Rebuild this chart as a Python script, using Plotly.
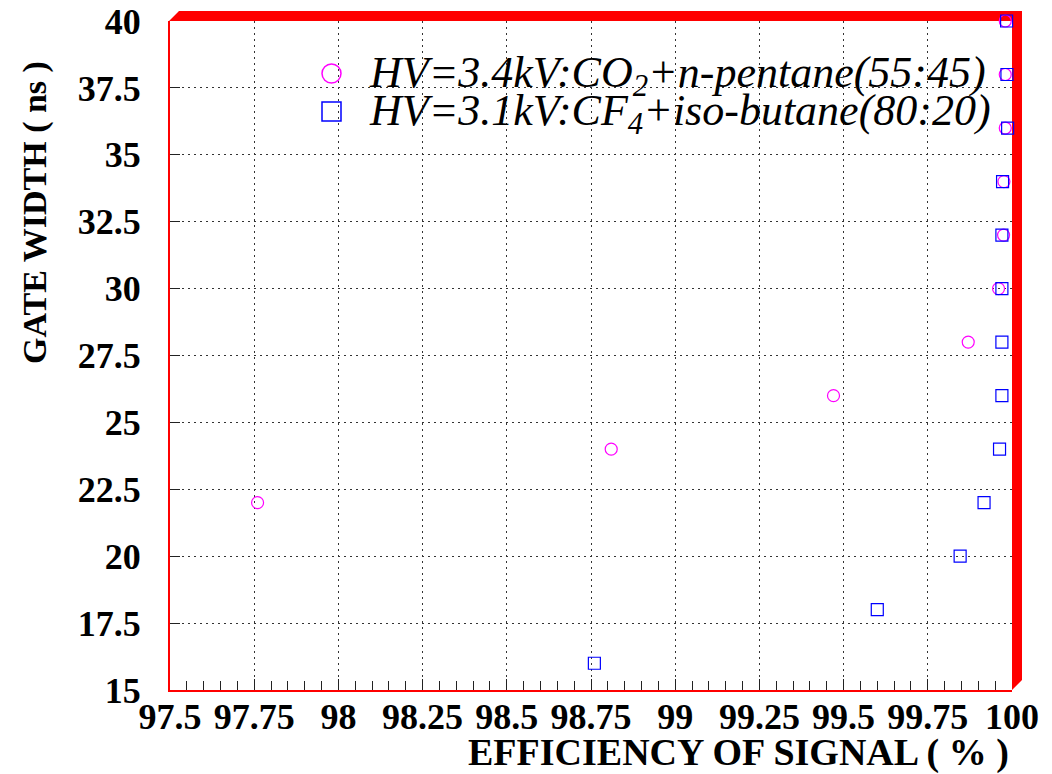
import plotly.graph_objects as go

# Gate width scan: signal efficiency for two gas mixtures
co2_eff = [97.76, 98.81, 99.47, 99.87, 99.96, 99.975, 99.976, 99.98, 99.98, 99.98]
co2_gate = [22, 24, 26, 28, 30, 32, 34, 36, 38, 40]

cf4_eff = [98.76, 99.60, 99.846, 99.917, 99.963, 99.97, 99.97, 99.97, 99.97,
           99.972, 99.987, 99.985, 99.984]
cf4_gate = [16, 18, 20, 22, 24, 26, 28, 30, 32, 34, 36, 38, 40]

x_ticks = [97.5, 97.75, 98, 98.25, 98.5, 98.75, 99, 99.25, 99.5, 99.75, 100]
x_tick_text = ["97.5", "97.75", "98", "98.25", "98.5", "98.75", "99", "99.25",
               "99.5", "99.75", "100"]
y_ticks = [15, 17.5, 20, 22.5, 25, 27.5, 30, 32.5, 35, 37.5, 40]
y_tick_text = ["15", "17.5", "20", "22.5", "25", "27.5", "30", "32.5", "35",
               "37.5", "40"]

label_co2 = "HV=3.4kV:CO<sub>2</sub>+n-pentane(55:45)"
label_cf4 = "HV=3.1kV:CF<sub>4</sub>+iso-butane(80:20)"
x_title = "EFFICIENCY OF SIGNAL ( % )"
y_title = "GATE WIDTH ( ns )"

W, H = 1052, 774
L, R, T, B = 170, 40, 21, 84
PW, PH = W - L - R, H - T - B


def px(X):
    return (X - L) / PW


def py(Y):
    return (H - B - Y) / PH


serif = "Liberation Serif"
MAGENTA = "#ff00ff"
BLUE = "#0000ff"

fig = go.Figure()
fig.add_trace(go.Scatter(
    x=co2_eff, y=co2_gate, mode="markers", name=label_co2,
    marker=dict(symbol="circle-open", size=12, color=MAGENTA, line=dict(width=1.2)),
    cliponaxis=False, showlegend=False))
fig.add_trace(go.Scatter(
    x=cf4_eff, y=cf4_gate, mode="markers", name=label_cf4,
    marker=dict(symbol="square-open", size=12, color=BLUE, line=dict(width=1.2)),
    cliponaxis=False, showlegend=False))

grid = dict(showgrid=True, gridcolor="#333333", griddash="2px,4px", gridwidth=1)

fig.update_xaxes(
    range=[97.5, 100], tickvals=x_ticks, ticktext=x_tick_text, tickangle=0,
    ticks="inside", ticklen=11, tickwidth=1, tickcolor="#222",
    minor=dict(dtick=0.05, tick0=97.5, ticks="inside", ticklen=9, tickcolor="#222",
               showgrid=False),
    showline=True, linecolor="red", linewidth=2, mirror=False, zeroline=False,
    tickfont=dict(family=serif, size=36, color="black", weight="bold"),
    ticklabelstandoff=-6, automargin=False, **grid)
fig.update_yaxes(
    range=[15, 40], tickvals=y_ticks, ticktext=y_tick_text,
    ticks="inside", ticklen=10, tickwidth=1, tickcolor="#222",
    showline=True, linecolor="red", linewidth=2, mirror=False, zeroline=False,
    tickfont=dict(family=serif, size=36, color="black", weight="bold"),
    ticklabelstandoff=20, automargin=False, **grid)

# raised 3D frame edges along the top and right
frame = (f"M {px(169)},{py(21)} L {px(179)},{py(11)} L {px(1022)},{py(11)} "
         f"L {px(1022)},{py(680)} L {px(1012)},{py(690)} L {px(1012)},{py(21)} Z")
fig.add_shape(type="path", path=frame, xref="paper", yref="paper",
              fillcolor="red", line=dict(width=0), layer="below")

# legend symbols
r = 9.5
fig.add_shape(type="circle", xref="paper", yref="paper",
              x0=px(331.5 - r), x1=px(331.5 + r), y0=py(73.5 + r), y1=py(73.5 - r),
              line=dict(color=MAGENTA, width=1.5))
fig.add_shape(type="rect", xref="paper", yref="paper",
              x0=px(331.5 - r), x1=px(331.5 + r), y0=py(111.5 + r), y1=py(111.5 - r),
              line=dict(color=BLUE, width=1.5))

legend_font = dict(family=serif, size=44, color="black", style="italic")
fig.add_annotation(x=px(367), y=py(75), xref="paper", yref="paper", text=label_co2,
                   showarrow=False, xanchor="left", yanchor="middle", font=legend_font)
fig.add_annotation(x=px(367), y=py(113), xref="paper", yref="paper", text=label_cf4,
                   showarrow=False, xanchor="left", yanchor="middle", font=legend_font)

# axis titles
fig.add_annotation(x=px(1011), y=py(752), xref="paper", yref="paper", text=x_title,
                   showarrow=False, xanchor="right", yanchor="middle",
                   font=dict(family=serif, size=38, color="black", weight="bold"))
fig.add_annotation(x=px(35), y=py(213), xref="paper", yref="paper", text=y_title,
                   showarrow=False, xanchor="center", yanchor="middle", textangle=-90,
                   font=dict(family=serif, size=34, color="black", weight="bold"))

fig.update_layout(
    width=W, height=H, autosize=False,
    margin=dict(l=L, r=R, t=T, b=B, pad=0, autoexpand=False),
    paper_bgcolor="white", plot_bgcolor="white",
    showlegend=False)

fig.write_html("out.html")
